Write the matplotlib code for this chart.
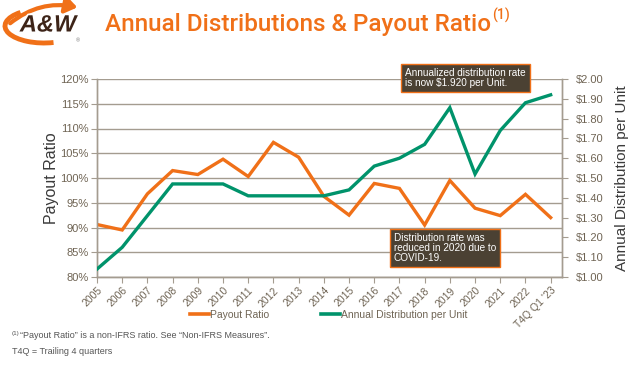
import matplotlib
matplotlib.use("Agg")
import matplotlib.pyplot as plt
from matplotlib.lines import Line2D
from matplotlib.patches import Arc, FancyArrowPatch
import matplotlib.patheffects as pe
import numpy as np

categories = ["2005", "2006", "2007", "2008", "2009", "2010", "2011", "2012", "2013",
              "2014", "2015", "2016", "2017", "2018", "2019", "2020", "2021", "2022",
              "T4Q Q1 '23"]
payout_ratio = [90.6, 89.5, 96.8, 101.5, 100.7, 103.8, 100.3, 107.2, 104.2,
                96.3, 92.5, 98.9, 97.9, 90.5, 99.5, 93.9, 92.4, 96.7, 92.0]
distribution = [1.04, 1.15, 1.31, 1.47, 1.47, 1.47, 1.41, 1.41, 1.41,
                1.41, 1.44, 1.56, 1.60, 1.67, 1.855, 1.52, 1.74, 1.88, 1.92]
left_ticks = [80, 85, 90, 95, 100, 105, 110, 115, 120]
right_ticks = [1.00, 1.10, 1.20, 1.30, 1.40, 1.50, 1.60, 1.70, 1.80, 1.90, 2.00]

ORANGE = "#F07018"
GREEN = "#00936B"
TICKC = "#6f6454"
GRIDC = "#a49c90"
BOXC = "#4b4133"

plt.rcParams['font.family'] = ['Liberation Sans', 'DejaVu Sans']

fig = plt.figure(figsize=(6.4, 3.67), dpi=100)
ax = fig.add_axes([97/640, 1-277/367, (562-97)/640, (277-79)/367])
ax2 = ax.twinx()

x = np.arange(len(categories))
ax.plot(x, payout_ratio, color=ORANGE, lw=2.4, solid_joinstyle='miter', zorder=3)
ax2.plot(x, distribution, color=GREEN, lw=2.4, solid_joinstyle='miter', zorder=3)

ax.set_xlim(0, len(categories) - 0.55)
ax.set_ylim(80, 120)
ax2.set_ylim(1.0, 2.0)
ax.set_yticks(left_ticks)
ax.set_yticklabels([f"{v}%" for v in left_ticks])
ax2.set_yticks(right_ticks)
ax2.set_yticklabels([f"${v:.2f}" for v in right_ticks])
ax.set_xticks(x)
ax.set_xticklabels(categories, rotation=45, ha='right', rotation_mode='anchor')

ax.grid(axis='y', color=GRIDC, lw=1.0)
ax.set_axisbelow(True)
for a in (ax, ax2):
    for s in a.spines.values():
        s.set_color(GRIDC)
        s.set_linewidth(1.0)
    a.spines['top'].set_visible(False)
ax.tick_params(axis='y', colors=GRIDC, labelcolor=TICKC, labelsize=8, length=4, direction='out', pad=2)
ax2.tick_params(axis='y', colors=GRIDC, labelcolor=TICKC, labelsize=8, length=4, direction='out', pad=6)
ax.tick_params(axis='x', colors=GRIDC, labelcolor=TICKC, labelsize=7.5, length=4, direction='out', pad=2)

ax.set_ylabel("Payout Ratio", fontsize=11.5, color="#3a3a3a", labelpad=1)
ax2.set_ylabel("Annual Distribution per Unit", fontsize=11, color="#3a3a3a", rotation=90, labelpad=8)

# annotation boxes
fig.text(405/640, 1-78/367, "Annualized distribution rate\nis now $1.920 per Unit.",
         fontsize=7.2, color='white', va='center', ha='left', linespacing=1.0,
         bbox=dict(boxstyle='square,pad=0.4', fc=BOXC, ec=ORANGE, lw=1.0))
fig.text(394/640, 1-248/367, "Distribution rate was\nreduced in 2020 due to\nCOVID-19.",
         fontsize=7.2, color='white', va='center', ha='left', linespacing=1.0,
         bbox=dict(boxstyle='square,pad=0.4', fc=BOXC, ec=ORANGE, lw=1.0))

# legend
handles = [Line2D([0], [0], color=ORANGE, lw=2.6), Line2D([0], [0], color=GREEN, lw=2.6)]
fig.legend(handles, ["Payout Ratio", "Annual Distribution per Unit"], ncol=2,
           loc='center', bbox_to_anchor=(0.514, 1-315/367), frameon=False, fontsize=7.5,
           handlelength=1.8, handletextpad=0.1, columnspacing=5.0,
           labelcolor=TICKC)

# footnotes
fig.text(12/640, 1-333/367, "(1)", fontsize=4.5, color="#555555", va='center')
fig.text(20/640, 1-336/367, "“Payout Ratio” is a non-IFRS ratio. See “Non-IFRS Measures”.",
         fontsize=6.5, color="#555555", va='center')
fig.text(12/640, 1-351/367, "T4Q = Trailing 4 quarters", fontsize=6.5, color="#555555", va='center')

# title
title = fig.text(105/640, 1-25/367, "Annual Distributions & Payout Ratio", fontsize=17.5,
                 color=ORANGE, va='center', ha='left', fontweight='medium',
                 family=['Roboto', 'Liberation Sans'])
fig.canvas.draw()
bb = title.get_window_extent(renderer=fig.canvas.get_renderer())
sup_x = bb.x1 / fig.bbox.width + 1/640
fig.text(sup_x, 1-15/367, "(1)", fontsize=10, color=ORANGE, va='center', ha='left',
         fontweight='medium', family=['Roboto', 'Liberation Sans'])

# logo (approximation)
lax = fig.add_axes([0, 1-55/367, 100/640, 55/367])
lax.set_xlim(0, 100)
lax.set_ylim(0, 55)
lax.axis('off')
lax.add_patch(Arc((44, 29), 78, 34, theta1=150, theta2=300, color=ORANGE, lw=3.5))
lax.add_patch(FancyArrowPatch((8, 30), (80, 47), connectionstyle="arc3,rad=-0.25",
                              arrowstyle='-|>,head_length=7,head_width=5', color=ORANGE, lw=3))
lax.text(48, 30, "A&W", fontsize=17, fontweight='bold', color='#3d2418',
         ha='center', va='center', style='italic',
         path_effects=[pe.withStroke(linewidth=2.5, foreground='white')])
lax.text(78, 14, "®", fontsize=4, color='#777777', ha='center', va='center')

fig.savefig("out.png", dpi=100)
